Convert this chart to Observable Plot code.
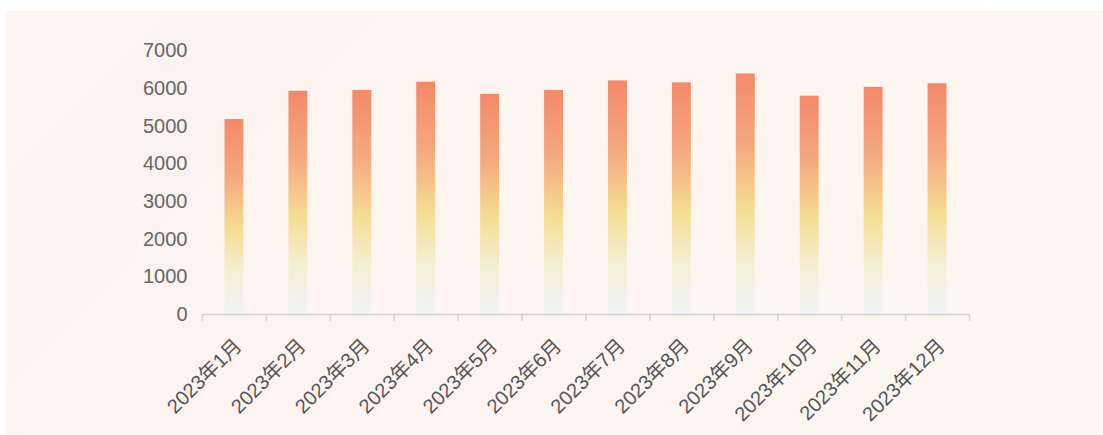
<!DOCTYPE html>
<html><head><meta charset="utf-8">
<script src="https://cdn.jsdelivr.net/npm/d3@7"></script>
<script src="https://cdn.jsdelivr.net/npm/@observablehq/plot@0.6"></script>
<style>
html,body{margin:0;padding:0;background:#fff;}
#panel{position:absolute;left:5px;top:11px;width:1098px;height:424px;background:linear-gradient(135deg,#fdf3f1 0%,#fcf5f1 60%,#fbf7f0 100%);}
#panel svg{display:block;}
</style></head><body><div id="panel"></div>
<script>
const months = ["2023年1月","2023年2月","2023年3月","2023年4月","2023年5月","2023年6月","2023年7月","2023年8月","2023年9月","2023年10月","2023年11月","2023年12月"];
const sales = [5180,5930,5950,6170,5845,5950,6205,6155,6390,5800,6035,6130];
const yTicks = [0,1000,2000,3000,4000,5000,6000,7000];

const data = months.map((m, i) => ({month: m, idx: i, value: sales[i]}));
const boundaries = d3.range(months.length + 1);
const centers = months.map((m, i) => i + 0.5);

const defs = () => {
  const d = d3.create("svg:defs");
  const g = d.append("linearGradient").attr("id", "barGrad")
    .attr("x1", 0).attr("y1", 0).attr("x2", 0).attr("y2", 1);
  [[0, "#f3896a"], [0.3, "#f5a97f"], [0.57, "#f5de94"], [0.8, "#f4efd8"], [1, "#f0f3f5"]]
    .forEach(([o, c]) => g.append("stop").attr("offset", o).attr("stop-color", c));
  return d.node();
};

const font = "'Liberation Sans', Arial, 'Noto Sans CJK SC', sans-serif";

const chart = Plot.plot({
  width: 1098, height: 424,
  marginLeft: 197, marginRight: 134, marginTop: 39.5, marginBottom: 121,
  style: {background: "transparent", fontFamily: font, fontSize: "20px", color: "#666"},
  x: {type: "linear", domain: [0, months.length], axis: null},
  y: {domain: [0, 7000], axis: null},
  marks: [
    defs,
    Plot.rectY(data, {x1: "idx", x2: d => d.idx + 1, y: "value", insetLeft: 22.5, insetRight: 22.5, fill: "url(#barGrad)"}),
    Plot.axisY(yTicks, {label: null, tickSize: 0, tickPadding: 15, fontSize: 20, fill: "#666", tickFormat: d => String(d)}),
    Plot.ruleY([0], {stroke: "#d3d3d3", strokeWidth: 1.5}),
    Plot.axisX(boundaries, {label: null, tickSize: 7, stroke: "#d3d3d3", strokeWidth: 1.5, tickFormat: () => ""}),
    Plot.axisX(centers, {label: null, tickSize: 0, tickPadding: 28, dx: 4, tickRotate: -45, fontSize: 20, fill: "#555", tickFormat: v => months[Math.floor(v)]})
  ]
});
document.getElementById("panel").appendChild(chart);
</script></body></html>
